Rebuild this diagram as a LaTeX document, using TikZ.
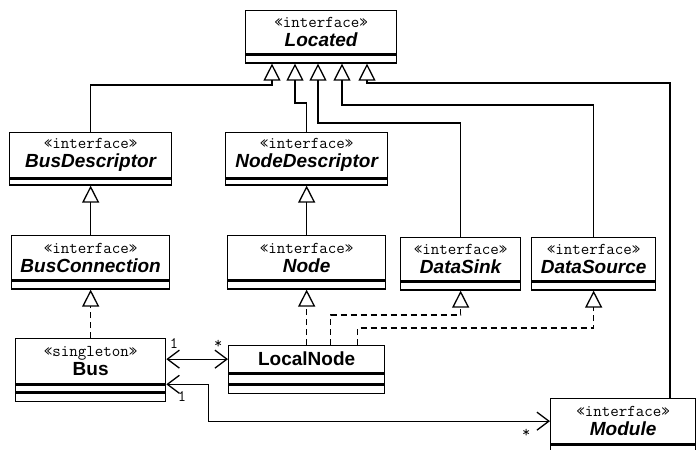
\documentclass[tikz,border=0pt]{standalone}
\usepackage{fontspec}
\setmainfont{Liberation Sans}
\usetikzlibrary{arrows.meta}
\newcommand{\umlst}[1]{{\ttfamily\fontsize{16.5}{17}\selectfont «#1»}}
\newcommand{\umlif}[1]{{\bfseries\itshape #1}}
\begin{document}
\begin{tikzpicture}[x=1pt,y=-1pt,
    cls/.style={draw,line width=1.3pt,anchor=north west,align=center,inner sep=0pt,font=\fontsize{19}{19}\selectfont},
    comp/.style={draw,line width=1.3pt,anchor=north west,inner sep=0pt},
    gen/.style={line width=1.3pt,-{Triangle[length=17pt,width=17pt,fill=white]}},
    real/.style={gen,dash pattern=on 6pt off 4pt},
    assoc/.style={line width=1.3pt,{Straight Barb[length=12pt,width=18pt]}-{Straight Barb[length=12pt,width=18pt]}},
    mult/.style={font=\ttfamily\fontsize{16}{16}\selectfont,inner sep=1pt}]
    \useasboundingbox (0,0) rectangle (697,450);

    \node[cls,minimum width=151pt,minimum height=43pt] (loc) at (245,10) {\umlst{interface}\\\umlif{Located}};
    \node[comp,minimum width=151pt,minimum height=8pt] (locB) at (loc.south west) {};

    \node[cls,minimum width=162pt,minimum height=45pt] (bdesc) at (9,132) {\umlst{interface}\\\umlif{BusDescriptor}};
    \node[comp,minimum width=162pt,minimum height=6pt] (bdescB) at (bdesc.south west) {};
    \node[cls,minimum width=162pt,minimum height=45pt] (ndesc) at (225,132) {\umlst{interface}\\\umlif{NodeDescriptor}};
    \node[comp,minimum width=162pt,minimum height=6pt] (ndescB) at (ndesc.south west) {};

    \node[cls,minimum width=158pt,minimum height=44pt] (bconn) at (11,235) {\umlst{interface}\\\umlif{BusConnection}};
    \node[comp,minimum width=158pt,minimum height=8pt] (bconnB) at (bconn.south west) {};
    \node[cls,minimum width=158pt,minimum height=44pt] (nod) at (227,235) {\umlst{interface}\\\umlif{Node}};
    \node[comp,minimum width=158pt,minimum height=8pt] (nodB) at (nod.south west) {};
    \node[cls,minimum width=120pt,minimum height=43pt] (sink) at (400,237) {\umlst{interface}\\\umlif{DataSink}};
    \node[comp,minimum width=120pt,minimum height=8pt] (sinkB) at (sink.south west) {};
    \node[cls,minimum width=124pt,minimum height=43pt] (src) at (531,237) {\umlst{interface}\\\umlif{DataSource}};
    \node[comp,minimum width=124pt,minimum height=8pt] (srcB) at (src.south west) {};

    \node[cls,minimum width=150pt,minimum height=45pt] (bus) at (15,338) {\umlst{singleton}\\\textbf{Bus}};
    \node[comp,minimum width=150pt,minimum height=7pt] (busB) at (bus.south west) {};
    \node[comp,minimum width=150pt,minimum height=8pt] (busC) at (busB.south west) {};
    \node[cls,minimum width=156pt,minimum height=27pt] (lnode) at (228,345) {\textbf{LocalNode}};
    \node[comp,minimum width=156pt,minimum height=10pt] (lnodeB) at (lnode.south west) {};
    \node[comp,minimum width=156pt,minimum height=8pt] (lnodeC) at (lnodeB.south west) {};
    \node[cls,minimum width=145pt,minimum height=45pt] (mod) at (550,398) {\umlst{interface}\\\umlif{Module}};
    \node[comp,minimum width=145pt,minimum height=6pt] (modB) at (mod.south west) {};

    \draw[gen] (bdesc.north) -- ++(0,-47) -| ([xshift=27pt]locB.south west);
    \draw[gen] (ndesc.north) -- ++(0,-29) -| ([xshift=50pt]locB.south west);
    \draw[gen] (sink.north) -- ++(0,-114) -| ([xshift=73pt]locB.south west);
    \draw[gen] (src.north) -- ++(0,-132) -| ([xshift=97pt]locB.south west);
    \draw[gen] ([xshift=120pt]mod.north west) -- ++(0,-315) -| ([xshift=122pt]locB.south west);

    \draw[gen] (bconn.north) -- (bdescB.south);
    \draw[gen] (nod.north) -- (ndescB.south);

    \draw[real] (bus.north) -- (bconnB.south);
    \draw[real] (lnode.north) -- (nodB.south);
    \draw[real] ([xshift=24pt]lnode.north) -- ++(0,-30) -| (sinkB.south);
    \draw[real] ([xshift=51pt]lnode.north) -- ++(0,-17) -| (srcB.south);

    \draw[assoc] (bus.east |- lnode.west) node[mult,anchor=south west,xshift=2pt,yshift=9pt] (m1) {1}
        -- (lnode.west) node[mult,anchor=south east,xshift=-4pt,yshift=9pt] (m2) {*};
    \draw[assoc] (bus.south east) node[mult,anchor=north west,xshift=10pt,yshift=-6pt] (m3) {1}
        -- ++(42,0) |- (mod.west) node[mult,anchor=north east,xshift=-18pt,yshift=-6pt] (m4) {*};
\end{tikzpicture}
\end{document}
